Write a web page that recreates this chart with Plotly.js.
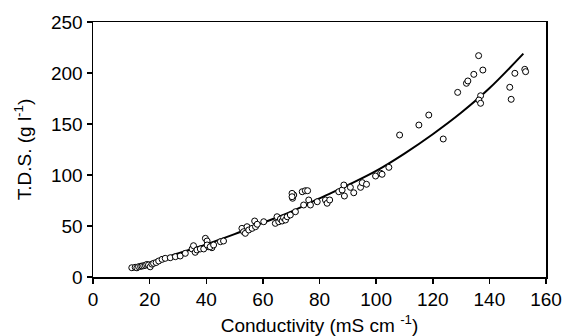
<!DOCTYPE html>
<html>
<head>
<meta charset="utf-8">
<script src="https://cdn.plot.ly/plotly-3.0.1.min.js"></script>
<style>html,body{margin:0;padding:0;background:#fff;}#chart{width:567px;height:336px;}</style>
</head>
<body>
<div id="chart"></div>
<script>
// Observed samples: conductivity (mS cm-1) and T.D.S. (g l-1)
var conductivity = [
  13.7, 14.9, 15.5, 16.1, 16.8, 17.3, 17.9, 18.5, 19.0, 19.6, 20.2, 20.8, 21.4, 22.3, 23.2, 24.4, 25.5, 27.3, 29.1, 30.8, 32.6,
  35.0, 35.5, 36.1, 36.7, 37.9, 39.1, 39.7, 40.3, 40.8, 42.0, 40.3, 41.4, 42.6, 45.0, 46.1,
  52.6, 53.2, 53.8, 54.4, 55.0, 56.2, 57.1, 57.4, 58.0, 60.3, 64.4, 65.0, 65.6, 66.2, 66.8, 67.3, 68.0, 68.6, 69.7,
  70.5, 70.9, 70.3, 70.3, 73.9, 75.0, 75.8, 71.5, 74.4, 76.2, 76.8, 79.2, 82.1, 82.7, 83.6, 86.8, 88.0, 88.6, 88.8,
  90.9, 92.1, 94.5, 95.1, 96.6, 99.8, 101.6, 102.1, 104.5, 108.3, 115.1, 118.6, 123.7, 128.8,
  131.9, 132.4, 134.5, 136.2, 137.7, 136.9, 136.3, 136.9, 147.2, 147.7, 149.0, 152.5, 152.8
];
var tds = [
  9.1, 9.5, 9.0, 10.1, 10.4, 10.8, 11.0, 11.5, 12.3, 11.8, 10.0, 12.6, 13.4, 14.2, 15.7, 17.3, 18.3, 18.9, 19.9, 20.6, 23.2,
  27.5, 30.7, 24.2, 26.5, 27.5, 27.5, 37.9, 35.3, 29.7, 28.7, 31.4, 29.7, 31.4, 34.6, 35.3,
  47.7, 44.4, 42.8, 49.3, 46.1, 47.7, 54.9, 49.3, 51.7, 54.2, 52.6, 59.1, 54.2, 56.9, 54.9, 58.1, 55.9, 59.1, 60.8,
  77.2, 80.4, 82.0, 78.7, 83.6, 84.6, 84.6, 64.0, 70.6, 75.5, 70.6, 73.8, 75.5, 72.3, 75.5, 83.6, 85.3, 90.2, 79.4,
  87.9, 82.6, 87.9, 92.5, 90.9, 99.0, 101.7, 100.7, 107.5, 139.2, 149.0, 158.8, 135.3, 181.0,
  189.9, 192.2, 198.7, 217.0, 202.9, 177.7, 173.5, 170.3, 186.0, 174.2, 199.7, 203.6, 201.3
];
// Fitted curve
var fitConductivity = [14, 20, 30, 40, 50, 60, 70, 80, 90, 100, 110, 120, 130, 140, 152];
var fitTds = [9, 14, 23, 32, 42, 53, 64, 77, 90, 104, 121, 140, 161, 185, 219];

var xTicks = [0, 20, 40, 60, 80, 100, 120, 140, 160];
var yTicks = [0, 50, 100, 150, 200, 250];

var font = {family: 'Liberation Sans, Arial, sans-serif', size: 19, color: '#000'};

var traces = [
  {
    x: fitConductivity, y: fitTds, type: 'scatter', mode: 'lines',
    line: {color: '#000', width: 2, shape: 'spline', smoothing: 1},
    hoverinfo: 'skip', showlegend: false
  },
  {
    x: conductivity, y: tds, type: 'scatter', mode: 'markers',
    marker: {symbol: 'circle', size: 6, color: '#fff', line: {color: '#000', width: 1}},
    showlegend: false
  }
];

var layout = {
  width: 567, height: 336,
  margin: {l: 93, r: 21, t: 22, b: 59},
  paper_bgcolor: '#fff', plot_bgcolor: '#fff',
  font: font,
  showlegend: false,
  xaxis: {
    range: [0, 160], tickvals: xTicks, ticktext: xTicks.map(String),
    showline: true, linecolor: '#000', linewidth: 1.5, mirror: true,
    ticks: 'outside', ticklen: 5, tickcolor: '#000', tickwidth: 1.5,
    showgrid: false, zeroline: false, tickfont: font,
    title: {text: 'Conductivity (mS cm <sup>-1</sup>)', font: font, standoff: 9}
  },
  yaxis: {
    range: [0, 250], tickvals: yTicks, ticktext: yTicks.map(String),
    showline: true, linecolor: '#000', linewidth: 1.5, mirror: true,
    ticks: 'outside', ticklen: 5, tickcolor: '#000', tickwidth: 1.5,
    showgrid: false, zeroline: false, tickfont: font,
    title: {text: 'T.D.S. (g l<sup>-1</sup>)', font: font, standoff: 14}
  }
};

Plotly.newPlot('chart', traces, layout, {displayModeBar: false, staticPlot: true});
</script>
</body>
</html>
